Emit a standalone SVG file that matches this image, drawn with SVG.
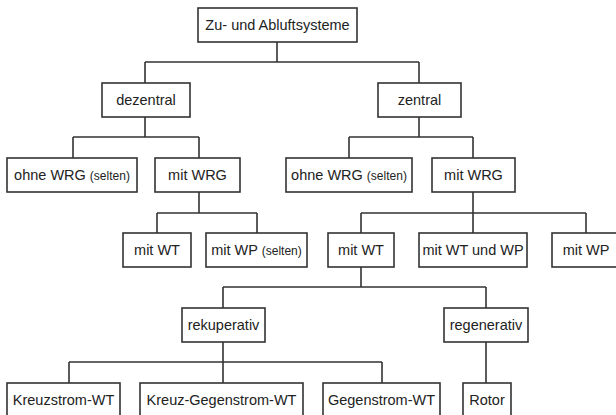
<svg xmlns="http://www.w3.org/2000/svg" width="616" height="415" viewBox="0 0 616 415">
<style>
.b{fill:#fff;stroke:#333;stroke-width:1.6}
.t{font-family:"Liberation Sans",Arial,sans-serif;font-size:14.5px;fill:#222;text-anchor:middle}
.s{font-size:12px}
.c{fill:none;stroke:#333;stroke-width:1.6}
</style>
<rect width="616" height="415" fill="#fff"/>
<g id="connectors" class="c">
<path d="M277 42V62M145 62H419M145 62V83M419 62V83"/>
<path d="M145 117V137M73 137H199M73 137V158M199 137V158"/>
<path d="M419 117V137M349 137H473M349 137V158M473 137V158"/>
<path d="M199 192V213M157 213H257M157 213V233M257 213V233"/>
<path d="M473 192V213M361 213H586M361 213V233M473 213V233M586 213V233"/>
<path d="M361 267V287M223 287H486M223 287V308M486 287V308"/>
<path d="M223 342V383M69 362H382M69 362V383M382 362V383"/>
<path d="M486 342V383"/>
</g>
<g id="n-root"><rect class="b" x="198" y="8" width="159" height="34"/><text class="t" x="277.5" y="30">Zu- und Abluftsysteme</text></g>
<g id="n-dezentral"><rect class="b" x="102" y="83" width="88" height="34"/><text class="t" x="146" y="105">dezentral</text></g>
<g id="n-zentral"><rect class="b" x="378" y="83" width="83" height="34"/><text class="t" x="419.5" y="105">zentral</text></g>
<g id="n-ohne1"><rect class="b" x="7" y="158" width="130" height="34"/><text class="t" x="72" y="180">ohne WRG <tspan class="s">(selten)</tspan></text></g>
<g id="n-mitwrg1"><rect class="b" x="155" y="158" width="85" height="34"/><text class="t" x="197.5" y="180">mit WRG</text></g>
<g id="n-ohne2"><rect class="b" x="286" y="158" width="126" height="34"/><text class="t" x="349" y="180">ohne WRG <tspan class="s">(selten)</tspan></text></g>
<g id="n-mitwrg2"><rect class="b" x="432" y="158" width="83" height="34"/><text class="t" x="473.5" y="180">mit WRG</text></g>
<g id="n-mitwt1"><rect class="b" x="123" y="233" width="68" height="34"/><text class="t" x="157" y="255">mit WT</text></g>
<g id="n-mitwp1"><rect class="b" x="206" y="233" width="101" height="34"/><text class="t" x="256.5" y="255">mit WP <tspan class="s">(selten)</tspan></text></g>
<g id="n-mitwt2"><rect class="b" x="328" y="233" width="66" height="34"/><text class="t" x="361" y="255">mit WT</text></g>
<g id="n-mitwtwp"><rect class="b" x="419" y="233" width="108" height="34"/><text class="t" x="473" y="255">mit WT und WP</text></g>
<g id="n-mitwp2"><rect class="b" x="552" y="233" width="68" height="34"/><text class="t" x="586" y="255">mit WP</text></g>
<g id="n-rekup"><rect class="b" x="182" y="308" width="83" height="34"/><text class="t" x="223.5" y="330">rekuperativ</text></g>
<g id="n-regen"><rect class="b" x="444" y="308" width="84" height="34"/><text class="t" x="486" y="330">regenerativ</text></g>
<g id="n-kreuz"><rect class="b" x="7" y="383" width="113" height="36"/><text class="t" x="63.5" y="405">Kreuzstrom-WT</text></g>
<g id="n-kreuzgegen"><rect class="b" x="140" y="383" width="163" height="36"/><text class="t" x="221.5" y="405">Kreuz-Gegenstrom-WT</text></g>
<g id="n-gegen"><rect class="b" x="323" y="383" width="117" height="36"/><text class="t" x="381.5" y="405">Gegenstrom-WT</text></g>
<g id="n-rotor"><rect class="b" x="463" y="383" width="48" height="36"/><text class="t" x="487" y="405">Rotor</text></g>
</svg>
